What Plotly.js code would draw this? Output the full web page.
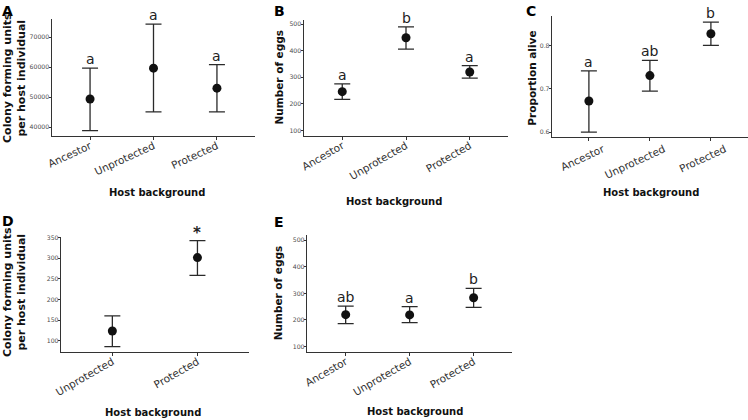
<!DOCTYPE html>
<html>
<head>
<meta charset="utf-8">
<script src="https://cdn.plot.ly/plotly-3.0.1.min.js"></script>
<style>html,body{margin:0;padding:0;background:#fff;}#chart{width:748px;height:420px;}</style>
</head>
<body>
<div id="chart"></div>
<script>
// ---- data ----
const catsThree = ['Ancestor', 'Unprotected', 'Protected'];
const catsTwo = ['Unprotected', 'Protected'];

const cfuMean = [49400, 59650, 53000];
const cfuUpper = [59700, 74300, 60800];
const cfuLower = [38900, 45100, 45100];
const cfuLetters = ['a', 'a', 'a'];

const eggsMean = [246, 449, 320];
const eggsUpper = [275, 490, 344];
const eggsLower = [217, 406, 297];
const eggsLetters = ['a', 'b', 'a'];

const aliveMean = [0.672, 0.731, 0.828];
const aliveUpper = [0.742, 0.766, 0.855];
const aliveLower = [0.600, 0.695, 0.801];
const aliveLetters = ['a', 'ab', 'b'];

const cfu2Mean = [124, 301.5];
const cfu2Upper = [160.4, 342.5];
const cfu2Lower = [86.2, 258.5];
const cfu2Letters = ['', '*'];

const eggs2Mean = [220, 219, 283.5];
const eggs2Upper = [252, 250, 319];
const eggs2Lower = [186, 190, 247.5];
const eggs2Letters = ['ab', 'a', 'b'];

// ---- layout helpers ----
const W = 748, H = 420;
const FONT = 'DejaVu Sans, sans-serif';
const px = v => v / W;
const py = v => 1 - v / H;

const panels = [
  {id: '', cats: catsThree, mean: cfuMean, up: cfuUpper, lo: cfuLower, letters: cfuLetters,
   box: [52, 255, 19, 136], range: [37100, 76000], tick: 10000, fmt: 'd', label: 'A', lab: [0, 1],
   ytitle: 'Colony forming units<br>per host individual', yts: 11, yt: [14, 78], xt: [157, 193],
   ang: -25, lshift: 0, lstand: -4},
  {id: '2', cats: catsThree, mean: eggsMean, up: eggsUpper, lo: eggsLower, letters: eggsLetters,
   box: [304, 508, 20, 135.7], range: [80, 516], tick: 100, fmt: 'd', label: 'B', lab: [272, 1],
   ytitle: 'Number of eggs', yts: 10.5, yt: [278, 77.5], xt: [394, 201.5],
   ang: -30, lshift: 0, lstand: -4},
  {id: '3', cats: catsThree, mean: aliveMean, up: aliveUpper, lo: aliveLower, letters: aliveLetters,
   box: [552.3, 747.5, 16, 137.3], range: [0.588, 0.869], tick: 0.1, fmt: '.1f', label: 'C', lab: [524, 1],
   ytitle: 'Proportion alive', yts: 10.5, yt: [531.7, 78], xt: [650.7, 192.7],
   ang: -25, lshift: 14, lstand: -2},
  {id: '4', cats: catsTwo, mean: cfu2Mean, up: cfu2Upper, lo: cfu2Lower, letters: cfu2Letters,
   box: [61.3, 248.5, 236.7, 351.7], range: [74, 352], tick: 50, fmt: 'd', label: 'D', lab: [0, 211],
   ytitle: 'Colony forming units<br>per host individual', yts: 11, yt: [14, 292], xt: [152.7, 412.7],
   ang: -30, lshift: 0, lstand: -4},
  {id: '5', cats: catsThree, mean: eggs2Mean, up: eggs2Upper, lo: eggs2Lower, letters: eggs2Letters,
   box: [307.3, 512, 235, 351.7], range: [81, 519], tick: 100, fmt: 'd', label: 'E', lab: [272, 212],
   ytitle: 'Number of eggs', yts: 10.5, yt: [278, 293.3], xt: [415.3, 411],
   ang: -30, lshift: 0, lstand: -4}
];

const data = [];
const layout = {
  width: W, height: H,
  margin: {l: 0, r: 0, t: 0, b: 0},
  paper_bgcolor: '#ffffff', plot_bgcolor: '#ffffff',
  showlegend: false,
  font: {family: FONT, color: '#222'},
  annotations: []
};

panels.forEach(p => {
  const xa = 'x' + p.id, ya = 'y' + p.id;
  data.push({
    type: 'scatter', mode: 'markers',
    x: p.cats, y: p.mean, xaxis: xa, yaxis: ya,
    marker: {color: '#111', size: 9},
    error_y: {
      type: 'data', symmetric: false,
      array: p.up.map((u, i) => u - p.mean[i]),
      arrayminus: p.lo.map((l, i) => p.mean[i] - l),
      color: '#2a2a2a', thickness: 1.3, width: 8
    },
    hoverinfo: 'skip', cliponaxis: false
  });
  const n = p.cats.length;
  const axX = {
    domain: [px(p.box[0]), px(p.box[1])],
    anchor: ya, type: 'category', range: [-0.6, n - 1 + 0.6],
    showline: true, linecolor: '#333', linewidth: 1, mirror: false,
    showgrid: false, zeroline: false,
    ticks: 'outside', ticklen: 3, tickcolor: '#333', tickwidth: 1,
    tickangle: p.ang, ticklabelstandoff: p.lstand, ticklabelshift: p.lshift,
    tickfont: {family: FONT, size: 10.5, color: '#333'},
    fixedrange: true
  };
  const axY = {
    domain: [py(p.box[3]), py(p.box[2])],
    anchor: xa, range: p.range, dtick: p.tick, tickformat: p.fmt,
    showline: true, linecolor: '#333', linewidth: 1, mirror: false,
    showgrid: false, zeroline: false,
    ticks: 'outside', ticklen: 2.5, tickcolor: '#333', tickwidth: 1,
    ticklabelstandoff: -2,
    tickfont: {family: FONT, size: 6.2, color: '#4d4d4d'},
    fixedrange: true
  };
  layout['xaxis' + p.id] = axX;
  layout['yaxis' + p.id] = axY;

  p.letters.forEach((t, i) => {
    if (!t) return;
    const star = t === '*';
    layout.annotations.push({
      xref: xa, yref: ya, x: p.cats[i], y: p.up[i],
      text: t, showarrow: false, xanchor: 'center', yanchor: 'bottom',
      yshift: star ? -3 : -1,
      font: {family: FONT, size: star ? 15 : 14, color: '#222', weight: star ? 'bold' : 'normal'}
    });
  });

  layout.annotations.push({
    xref: 'paper', yref: 'paper', x: px(p.lab[0]), y: py(p.lab[1]),
    text: '<b>' + p.label + '</b>', showarrow: false, xanchor: 'left', yanchor: 'top',
    font: {family: FONT, size: 14, color: '#000'}
  });
  layout.annotations.push({
    xref: 'paper', yref: 'paper', x: px(p.yt[0]), y: py(p.yt[1]),
    text: '<b>' + p.ytitle + '</b>', showarrow: false, xanchor: 'center', yanchor: 'middle',
    textangle: -90,
    font: {family: FONT, size: p.yts, color: '#111'}
  });
  layout.annotations.push({
    xref: 'paper', yref: 'paper', x: px(p.xt[0]), y: py(p.xt[1]),
    text: '<b>Host background</b>', showarrow: false, xanchor: 'center', yanchor: 'middle',
    font: {family: FONT, size: 10, color: '#111'}
  });
});

Plotly.newPlot('chart', data, layout, {displayModeBar: false, staticPlot: true});
</script>
</body>
</html>
